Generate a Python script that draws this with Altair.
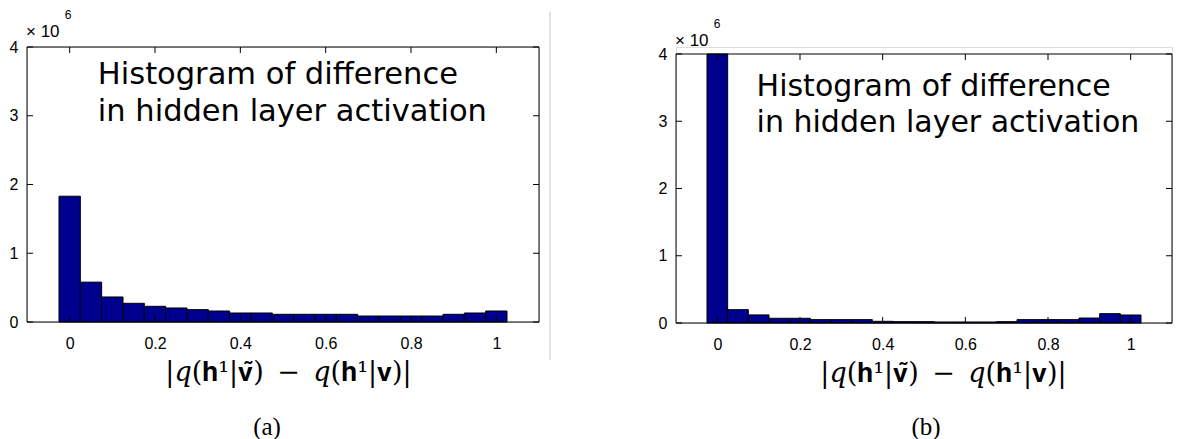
import altair as alt
import pandas as pd

# ---- data (counts in units of 10^6) ----
bin_centers = [0.0, 0.05, 0.1, 0.15, 0.2, 0.25, 0.3, 0.35, 0.4, 0.45, 0.5,
               0.55, 0.6, 0.65, 0.7, 0.75, 0.8, 0.85, 0.9, 0.95, 1.0]
counts_a = [1.83, 0.58, 0.364, 0.272, 0.228, 0.204, 0.18, 0.16, 0.131, 0.131, 0.112,
            0.112, 0.112, 0.112, 0.087, 0.087, 0.087, 0.087, 0.112, 0.131, 0.16]
counts_b = [4.6, 0.198, 0.12, 0.07, 0.07, 0.05, 0.05, 0.05, 0.025, 0.02, 0.02,
            0.015, 0.015, 0.015, 0.02, 0.05, 0.05, 0.05, 0.074, 0.139, 0.119]
x_ticks = [0, 0.2, 0.4, 0.6, 0.8, 1]
y_ticks = [0, 1, 2, 3, 4]
annotation_lines = ["Histogram of difference", "in hidden layer activation"]
x_title = "|𝑞(𝐡¹|𝐯̃)\u2002−\u2002𝑞(𝐡¹|𝐯)|"
captions = ["(a)", "(b)"]

BAR_HALF = 0.025
NAVY = "#00008f"
TICK_FONT = "Liberation Sans"
SERIF = "DejaVu Serif"
CAP_FONT = "Liberation Serif"


def panel(counts, W, H, top, ann_x, ann_y, ann_fs, title_x, title_y, caption, cap_x, cap_y,
          times_y, six_y, sep_x=None, sep_y=None):
    xs = alt.Scale(domain=[-0.1, 1.1], nice=False, zero=False)
    ys = alt.Scale(domain=[0, 4], nice=False, zero=True, range=[H, top], clamp=True)

    xaxis = alt.Axis(values=x_ticks, format="~g", ticks=False, domain=False, grid=False,
                     labelFont=TICK_FONT, labelFontSize=16, labelColor="black",
                     labelPadding=21, labelBaseline="middle",
                     title=x_title, titleFont=SERIF, titleFontSize=27,
                     titleFontWeight="normal", titleColor="black",
                     titleX=title_x, titleY=title_y, titleAlign="center",
                     titleBaseline="alphabetic")
    yaxis = alt.Axis(values=y_ticks, format="d", ticks=False, domain=False, grid=False,
                     labelFont=TICK_FONT, labelFontSize=16, labelColor="black",
                     labelPadding=9, labelBaseline="middle", title=None)

    bars_df = pd.DataFrame({"center": bin_centers, "count": counts})
    bars = alt.Chart(bars_df).transform_calculate(
        x0=f"datum.center - {BAR_HALF}", x1=f"datum.center + {BAR_HALF}"
    ).mark_bar(fill=NAVY, stroke="black", strokeWidth=1).encode(
        x=alt.X("x0:Q", scale=xs, axis=xaxis),
        x2="x1:Q",
        y=alt.Y("count:Q", scale=ys, axis=yaxis),
        y2=alt.datum(0),
    )

    frame = alt.Chart(pd.DataFrame({"a": [0]})).mark_rect(
        fill=None, filled=False, stroke="black", strokeWidth=1).encode(
        x=alt.value(0), x2=alt.value(W), y=alt.value(top), y2=alt.value(H))

    xt = pd.DataFrame({"v": x_ticks})
    yt = pd.DataFrame({"v": y_ticks})
    top_t = alt.Chart(xt).mark_rule(color="black", strokeWidth=1).encode(
        x=alt.X("v:Q", scale=xs, axis=xaxis), y=alt.value(top), y2=alt.value(top + 6))
    bot_t = alt.Chart(xt).mark_rule(color="black", strokeWidth=1).encode(
        x=alt.X("v:Q", scale=xs, axis=xaxis), y=alt.value(H), y2=alt.value(H - 6))
    left_t = alt.Chart(yt).mark_rule(color="black", strokeWidth=1).encode(
        y=alt.Y("v:Q", scale=ys, axis=yaxis), x=alt.value(0), x2=alt.value(6))
    right_t = alt.Chart(yt).mark_rule(color="black", strokeWidth=1).encode(
        y=alt.Y("v:Q", scale=ys, axis=yaxis), x=alt.value(W), x2=alt.value(W - 6))

    ann_df = pd.DataFrame({"x": [ann_x, ann_x], "y": ann_y, "t": annotation_lines})
    ann = alt.Chart(ann_df).mark_text(
        align="left", baseline="alphabetic", font="DejaVu Sans", fontSize=ann_fs,
        color="black").encode(
        x=alt.X("x:Q", scale=xs, axis=xaxis), y=alt.Y("y:Q", scale=ys, axis=yaxis), text="t:N")

    times = alt.Chart(pd.DataFrame({"t": ["× 10"]})).mark_text(
        align="left", baseline="middle", font=TICK_FONT, fontSize=17, color="black").encode(
        text="t:N", x=alt.value(-1), y=alt.value(times_y))
    six = alt.Chart(pd.DataFrame({"t": ["6"]})).mark_text(
        align="center", baseline="middle", font=TICK_FONT, fontSize=12, color="black").encode(
        text="t:N", x=alt.value(41), y=alt.value(six_y))
    cap = alt.Chart(pd.DataFrame({"t": [caption]})).mark_text(
        align="center", baseline="alphabetic", font=CAP_FONT, fontSize=25, color="black").encode(
        text="t:N", x=alt.value(cap_x), y=alt.value(cap_y))

    layers = [bars, frame, top_t, bot_t, left_t, right_t, ann, times, six, cap]
    if sep_x is not None:
        sep = alt.Chart(pd.DataFrame({"a": [0]})).mark_rule(color="#e2e2e2", strokeWidth=2).encode(
            x=alt.value(sep_x), y=alt.value(sep_y[0]), y2=alt.value(sep_y[1]))
        layers.append(sep)
    return alt.layer(*layers).properties(width=W, height=H)


left = panel(counts_a, 512, 275, 0, 0.066, [3.468, 2.924], 30.5, 261, 58, captions[0], 240, 388,
             -15, -31.7, sep_x=523, sep_y=(-35, 313))
right = panel(counts_b, 496, 276, 7, 0.095, [3.38, 2.834], 30, 267, 58, captions[1], 250, 388,
              -6.5, -23.5)

chart = alt.hconcat(left, right, spacing=105).properties(
    padding={"left": 0, "top": 0, "right": 0, "bottom": 0}
).configure_view(stroke=None).configure(background="white")

chart.save("out.html", embed_options={"renderer": "svg", "actions": False})
